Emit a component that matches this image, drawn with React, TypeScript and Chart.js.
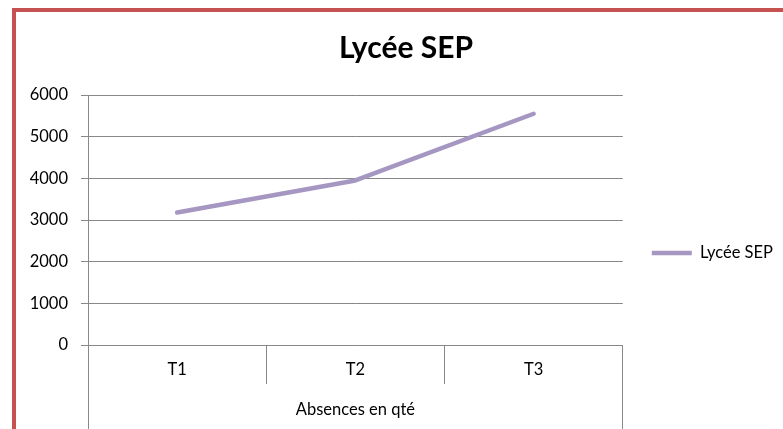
import React, { useEffect, useRef } from 'react';
import { Chart, registerables } from 'chart.js';

Chart.register(...registerables);

const categories = ['T1', 'T2', 'T3'];
const seriesName = 'Lycée SEP';
const seriesValues = [3180, 3950, 5550];
const chartTitle = 'Lycée SEP';
const groupLabel = 'Absences en qté';
const yMin = 0;
const yMax = 6000;
const yStep = 1000;

export default function App() {
  const ref = useRef<HTMLCanvasElement>(null);

  useEffect(() => {
    const canvas = ref.current;
    if (!canvas) return;
    const FONT = 'Lato';
    const W = 800;
    const H = 482;
    const PLOT_LEFT = 72;
    const PLOT_RIGHT = 607;
    const PLOT_BOTTOM = 333;
    const TITLE_CENTER = 390;
    const state = { padL: 20, padR: 0 };
    const lineColor = '#A597C2';
    const axisColor = '#888888';
    const textFont = { family: FONT, size: 16.5 };
    const align = (x: number) => Math.round(x - 0.5) + 0.5;

    const edgePlugin = {
      id: 'groupEdges',
      afterDraw(chart: any) {
        const { ctx, chartArea } = chart;
        ctx.save();
        ctx.strokeStyle = axisColor;
        ctx.lineWidth = 1;
        ctx.beginPath();
        for (const x of [chartArea.left, chartArea.right]) {
          const px = align(x);
          ctx.moveTo(px, chartArea.bottom);
          ctx.lineTo(px, chart.height);
        }
        ctx.stroke();
        ctx.restore();
      },
    };

    const chart = new Chart(canvas, {
      type: 'line',
      data: {
        labels: categories,
        datasets: [
          {
            label: seriesName,
            data: seriesValues,
            borderColor: lineColor,
            backgroundColor: lineColor,
            borderWidth: 4.5,
            pointRadius: 0,
            pointHoverRadius: 0,
            tension: 0,
            borderCapStyle: 'round',
            borderJoinStyle: 'round',
            fill: false,
          },
        ],
      },
      options: {
        responsive: false,
        animation: false,
        devicePixelRatio: 1,
        layout: { padding: { left: state.padL, right: state.padR, top: 0, bottom: 0 } },
        plugins: {
          title: {
            display: true,
            text: chartTitle,
            color: '#000',
            font: { family: FONT, size: 30, weight: 'bold' },
            padding: { top: 18, bottom: 29 },
          },
          legend: {
            position: 'right',
            labels: {
              usePointStyle: true,
              pointStyle: 'line',
              pointStyleWidth: 40,
              padding: 29,
              color: '#000',
              font: textFont,
            },
          },
          tooltip: { enabled: false },
        },
        scales: {
          x: {
            type: 'category',
            offset: true,
            grid: { offset: true, drawOnChartArea: false, tickLength: 39, color: axisColor },
            border: { color: axisColor },
            ticks: { padding: -24, color: '#000', font: textFont, maxRotation: 0 },
            title: {
              display: true,
              text: groupLabel,
              color: '#000',
              font: textFont,
              padding: { top: 0, bottom: 74 },
            },
            afterFit: (s: any) => {
              s.height = H - PLOT_BOTTOM;
            },
          },
          y: {
            min: yMin,
            max: yMax,
            ticks: {
              stepSize: yStep,
              padding: 13,
              color: '#000',
              font: textFont,
              callback: (v: any) => String(v),
            },
            grid: { color: axisColor, tickLength: 7 },
            border: { color: axisColor },
            afterFit: (s: any) => {
              s.width = PLOT_LEFT - state.padL;
            },
          },
        },
      },
      plugins: [edgePlugin],
    } as any);

    const legendW = (chart as any).legend.width;
    const X = Math.round(PLOT_RIGHT + legendW);
    state.padR = W - X;
    state.padL = 2 * TITLE_CENTER - X;
    (chart.options as any).layout.padding = { left: state.padL, right: state.padR, top: 0, bottom: 0 };
    chart.update();

    return () => chart.destroy();
  }, []);

  return (
    <div
      style={{
        position: 'fixed',
        left: 0,
        top: 0,
        width: 783,
        height: 429,
        overflow: 'hidden',
        background: '#fff',
      }}
    >
      <div
        style={{
          position: 'absolute',
          left: 12,
          top: 8,
          width: 900,
          height: 600,
          borderLeft: '4px solid #C55251',
          borderTop: '4px solid #C55251',
        }}
      />
      <canvas
        ref={ref}
        width={800}
        height={482}
        style={{ position: 'absolute', left: 16, top: 12, width: 800, height: 482 }}
      />
    </div>
  );
}
